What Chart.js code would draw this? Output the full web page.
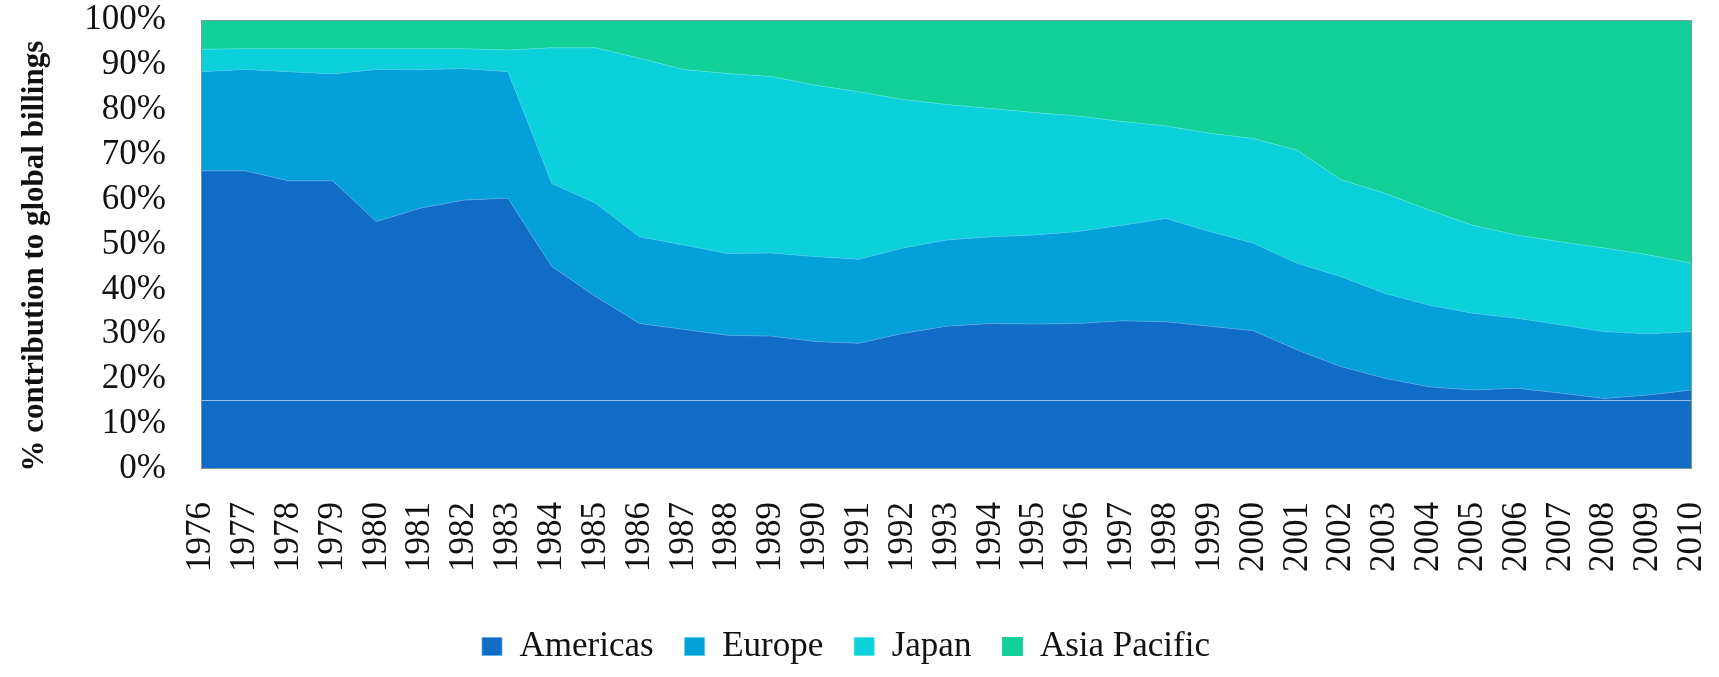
<!DOCTYPE html>
<html>
<head>
<meta charset="utf-8">
<script src="https://cdn.jsdelivr.net/npm/chart.js@4/dist/chart.umd.min.js"></script>
<style>
  html, body { margin: 0; padding: 0; background: #fff; }
  #wrap { width: 1719px; height: 677px; position: relative; }
</style>
</head>
<body>
<div id="wrap"><canvas id="chart"></canvas></div>
<script>
// Années (axe X)
const years = [
  '1976', '1977', '1978', '1979', '1980', '1981', '1982', '1983', '1984', '1985',
  '1986', '1987', '1988', '1989', '1990', '1991', '1992', '1993', '1994', '1995',
  '1996', '1997', '1998', '1999', '2000', '2001', '2002', '2003', '2004', '2005',
  '2006', '2007', '2008', '2009', '2010'
];

// Part de chaque région (%)
const americas = [
  66.4, 66.4, 64.2, 64.2, 55.1, 58.1, 59.9, 60.3, 45.1, 38.4,
  32.4, 31.1, 29.8, 29.6, 28.4, 28.0, 30.2, 31.8, 32.4, 32.3,
  32.4, 33.0, 32.8, 31.8, 30.8, 26.5, 22.8, 20.2, 18.3, 17.6,
  18.0, 16.9, 15.7, 16.5, 17.6
];
const europe = [
  22.1, 22.6, 24.3, 23.8, 33.9, 30.8, 29.3, 28.2, 18.5, 20.8,
  19.3, 18.8, 18.2, 18.5, 18.9, 18.7, 19.0, 19.2, 19.3, 19.8,
  20.5, 21.3, 23.0, 21.1, 19.5, 19.3, 20.0, 18.9, 18.2, 17.1,
  15.6, 15.2, 14.9, 13.6, 13.0
];
const japan = [
  5.0, 4.6, 5.1, 5.6, 4.6, 4.7, 4.4, 4.8, 30.2, 34.6,
  39.8, 39.1, 40.1, 39.3, 38.2, 37.3, 33.1, 30.2, 28.6, 27.3,
  25.7, 23.1, 20.6, 21.9, 23.3, 25.2, 21.6, 22.3, 21.2, 19.6,
  18.5, 18.5, 18.6, 17.6, 15.2
];
const asiaPacific = [
  6.5, 6.4, 6.4, 6.4, 6.4, 6.4, 6.4, 6.7, 6.2, 6.2,
  8.5, 11.0, 11.9, 12.6, 14.5, 16.0, 17.7, 18.8, 19.7, 20.6,
  21.4, 22.6, 23.6, 25.2, 26.4, 29.0, 35.6, 38.6, 42.3, 45.7,
  47.9, 49.4, 50.8, 52.3, 54.2
];

// Ligne claire horizontale visible sur l'original (%)
const faintLineValue = 15.4;

const serif = "'Liberation Serif', 'Times New Roman', serif";

// Cadre gris autour de la zone de tracé + ligne claire
const frame = {
  id: 'frame',
  afterDatasetsDraw(chart) {
    const { ctx, chartArea: a, scales } = chart;
    ctx.save();
    const yl = Math.round(scales.y.getPixelForValue(faintLineValue)) + 0.5;
    ctx.strokeStyle = 'rgba(170,200,235,0.9)';
    ctx.lineWidth = 1;
    ctx.beginPath();
    ctx.moveTo(a.left, yl);
    ctx.lineTo(a.right, yl);
    ctx.stroke();
    ctx.strokeStyle = '#7f9a9c';
    ctx.strokeRect(a.left + 0.5, a.top + 0.5, a.right - a.left - 1, a.bottom - a.top - 1);
    ctx.restore();
  }
};

function area(label, data, color, edge, fill) {
  return {
    label,
    data,
    backgroundColor: color,
    borderColor: edge,
    borderWidth: 1,
    pointRadius: 0,
    tension: 0,
    fill
  };
}

new Chart(document.getElementById('chart'), {
  type: 'line',
  data: {
    labels: years,
    datasets: [
      area('Americas', americas, '#106cc4', 'rgba(90,170,235,0.7)', 'origin'),
      area('Europe', europe, '#03a0d9', 'rgba(70,205,240,0.7)', '-1'),
      area('Japan', japan, '#0cd1da', 'rgba(80,225,220,0.7)', '-1'),
      area('Asia Pacific', asiaPacific, '#12d098', '#12d098', '-1')
    ]
  },
  options: {
    responsive: true,
    maintainAspectRatio: false,
    animation: false,
    layout: { padding: { left: 0, right: 27, top: 20, bottom: 3 } },
    plugins: {
      legend: {
        position: 'bottom',
        labels: {
          font: { family: serif, size: 35 },
          color: '#111',
          boxWidth: 20,
          boxHeight: 18,
          padding: 31
        }
      },
      tooltip: { enabled: false }
    },
    scales: {
      x: {
        offset: false,
        grid: { display: false, drawTicks: false },
        border: { display: false },
        ticks: {
          autoSkip: false,
          maxRotation: 90,
          minRotation: 90,
          padding: 33,
          color: '#111',
          font: { family: serif, size: 35 }
        },
        // hauteur fixe de l'axe, marges latérales sans le padding des ticks
        afterFit: s => { s.height = 129; s.paddingLeft = 0; s.paddingRight = 27; }
      },
      y: {
        stacked: true,
        min: 0,
        max: 100,
        grid: { display: false, drawTicks: false },
        border: { display: false },
        ticks: {
          autoSkip: false,
          stepSize: 10,
          padding: 35,
          color: '#111',
          font: { family: serif, size: 35 },
          callback: v => v + '%'
        },
        title: {
          display: true,
          // espaces finaux : décale le titre un peu vers le bas comme l'original
          text: '% contribution to global billings   ',
          color: '#111',
          font: { family: serif, size: 31, weight: 'bold' },
          padding: { top: 16, bottom: 27 }
        },
        afterFit: s => { s.width = 201; s.paddingTop = 20; s.paddingBottom = 20; }
      }
    }
  },
  plugins: [frame]
});
</script>
</body>
</html>
